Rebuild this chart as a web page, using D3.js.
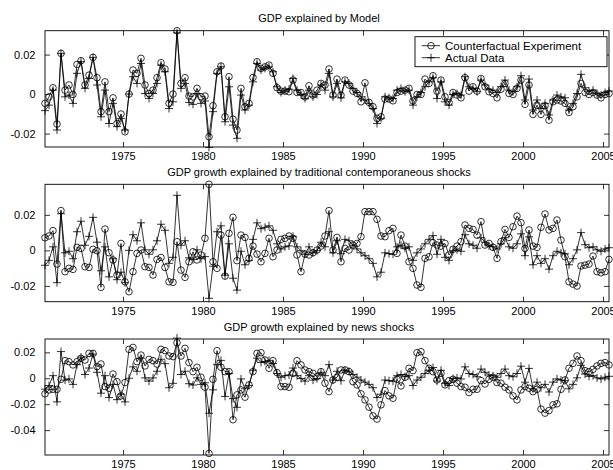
<!DOCTYPE html>
<html><head><meta charset="utf-8">
<script src="https://cdn.jsdelivr.net/npm/d3@7"></script>
<style>
body{margin:0;background:#fff}
text{font-family:"Liberation Sans",Arial,Helvetica,sans-serif;fill:#000}
</style>
</head><body>
<svg id="chart" width="613" height="470"></svg>
<script>
// quarterly data, starting 1970 Q1
const startYear = 1970;
const actual = [
-0.0084,-0.0056,0.0020,-0.0182,0.0206,-0.0014,-0.0005,-0.0047,0.0105,0.0164,
0.0029,0.0079,0.0186,0.0046,-0.0115,0.0020,-0.0149,-0.0047,-0.0165,-0.0123,
-0.0182,0.0000,0.0088,0.0054,0.0155,0.0003,-0.0022,0.0003,0.0054,0.0147,
0.0113,-0.0073,-0.0039,0.0310,0.0029,0.0054,-0.0042,-0.0052,0.0003,-0.0047,
-0.0035,-0.0270,-0.0089,0.0105,0.0138,-0.0140,0.0037,-0.0157,-0.0224,-0.0005,
-0.0081,-0.0056,0.0062,0.0155,0.0122,0.0130,0.0138,0.0113,0.0037,0.0008,
0.0020,0.0025,0.0079,0.0020,-0.0002,-0.0022,0.0020,-0.0014,-0.0002,0.0046,
0.0020,0.0105,-0.0014,0.0054,-0.0019,0.0062,0.0054,0.0029,0.0008,-0.0014,
-0.0030,-0.0047,-0.0073,-0.0149,-0.0123,-0.0014,-0.0019,-0.0022,0.0020,0.0029,
0.0012,0.0020,-0.0056,-0.0014,0.0008,0.0037,0.0062,0.0083,-0.0022,0.0062,
-0.0039,-0.0056,-0.0002,0.0003,-0.0005,0.0088,0.0037,0.0029,0.0012,0.0071,
0.0046,0.0025,0.0020,0.0008,0.0037,0.0071,0.0020,0.0012,0.0037,0.0093,
-0.0030,0.0076,-0.0081,-0.0030,-0.0073,-0.0047,-0.0106,-0.0030,-0.0005,-0.0014,
-0.0019,-0.0081,-0.0047,0.0003,0.0100,0.0032,0.0015,0.0020,0.0003,-0.0005,
0.0008,0.0015];
const cfModel = [
-0.0047,-0.0014,0.0032,-0.0152,0.0206,0.0020,0.0046,-0.0002,0.0150,0.0169,
0.0046,0.0096,0.0186,0.0083,-0.0089,0.0062,-0.0089,-0.0019,-0.0149,-0.0101,
-0.0191,0.0000,0.0122,0.0105,0.0181,0.0046,0.0003,0.0020,0.0083,0.0159,
0.0127,-0.0047,0.0000,0.0321,0.0054,0.0083,-0.0010,-0.0014,0.0029,-0.0014,
-0.0010,-0.0216,-0.0059,0.0113,0.0142,-0.0115,0.0088,-0.0127,-0.0182,0.0029,
-0.0064,-0.0047,0.0084,0.0164,0.0130,0.0138,0.0147,0.0105,0.0032,0.0015,
0.0015,0.0012,0.0071,0.0008,0.0008,-0.0014,0.0042,-0.0005,0.0020,0.0054,
0.0046,0.0127,-0.0005,0.0076,-0.0005,0.0071,0.0046,0.0015,0.0003,-0.0039,
0.0057,-0.0042,-0.0064,-0.0123,-0.0115,-0.0025,-0.0025,-0.0034,0.0008,0.0015,
0.0020,0.0029,-0.0035,-0.0002,-0.0002,0.0076,0.0054,0.0093,0.0015,0.0071,
-0.0014,-0.0042,0.0008,-0.0005,-0.0019,0.0083,0.0015,0.0037,0.0015,0.0079,
0.0037,0.0012,0.0003,-0.0019,0.0025,0.0054,0.0003,-0.0002,0.0029,0.0071,
-0.0052,0.0046,-0.0103,-0.0056,-0.0103,-0.0059,-0.0132,-0.0039,-0.0030,-0.0035,
-0.0047,-0.0093,-0.0064,-0.0014,0.0054,0.0008,-0.0002,0.0008,-0.0005,-0.0019,
-0.0002,0.0003];
const cfTraditional = [
0.0071,0.0081,0.0111,-0.0077,0.0224,-0.0120,-0.0101,-0.0107,0.0017,0.0011,
-0.0092,-0.0096,0.0006,-0.0002,-0.0208,0.0120,-0.0013,-0.0054,-0.0139,0.0039,
-0.0177,-0.0233,-0.0120,-0.0017,0.0002,-0.0092,-0.0096,-0.0139,-0.0051,-0.0040,
-0.0096,-0.0177,-0.0180,0.0049,-0.0111,-0.0152,-0.0064,-0.0008,-0.0054,-0.0026,
0.0068,0.0372,-0.0064,-0.0101,0.0086,-0.0145,0.0096,0.0186,-0.0058,0.0086,
0.0073,-0.0045,0.0024,-0.0021,-0.0064,-0.0017,0.0068,-0.0036,0.0002,0.0062,
0.0068,0.0081,0.0068,-0.0026,-0.0120,-0.0021,-0.0026,-0.0013,0.0002,0.0024,
0.0081,0.0224,0.0002,0.0073,-0.0064,0.0011,0.0002,0.0030,0.0039,0.0077,
0.0218,0.0218,0.0218,0.0175,0.0081,0.0077,0.0111,0.0124,-0.0017,0.0086,
0.0024,-0.0064,-0.0101,-0.0195,-0.0208,-0.0045,-0.0036,0.0043,0.0030,0.0024,
0.0039,-0.0026,0.0006,0.0024,0.0049,0.0143,0.0124,0.0118,0.0086,0.0162,
0.0030,0.0039,0.0017,-0.0045,0.0049,0.0118,0.0073,0.0133,0.0193,0.0156,
0.0011,0.0115,0.0024,0.0017,0.0130,0.0205,0.0115,0.0124,0.0171,0.0058,
-0.0036,-0.0177,-0.0190,-0.0201,-0.0088,-0.0083,-0.0077,-0.0032,-0.0120,-0.0126,
-0.0120,-0.0051];
const cfNews = [
-0.0120,-0.0090,-0.0085,-0.0085,-0.0008,0.0136,0.0128,0.0103,0.0128,0.0154,
0.0141,0.0192,0.0192,0.0090,0.0110,-0.0064,-0.0077,0.0033,-0.0026,-0.0136,
-0.0033,0.0223,0.0238,0.0128,0.0179,0.0095,0.0146,0.0136,0.0110,0.0223,
0.0213,0.0172,0.0167,0.0274,0.0172,0.0231,0.0121,0.0051,0.0085,0.0008,
-0.0069,-0.0580,-0.0008,0.0213,0.0085,0.0051,0.0051,-0.0320,-0.0128,-0.0090,
-0.0146,-0.0051,0.0051,0.0192,0.0197,0.0141,0.0077,0.0136,0.0044,-0.0064,
-0.0064,-0.0069,0.0038,0.0136,0.0103,0.0064,0.0051,0.0038,0.0013,0.0051,
-0.0038,-0.0103,-0.0013,0.0008,0.0064,0.0064,0.0051,-0.0026,-0.0051,-0.0120,
-0.0167,-0.0223,-0.0290,-0.0315,-0.0205,-0.0095,-0.0136,-0.0154,-0.0008,-0.0059,
0.0008,0.0077,0.0059,0.0197,0.0205,0.0136,0.0077,0.0051,-0.0013,0.0038,
-0.0051,-0.0018,-0.0008,-0.0038,-0.0064,-0.0069,-0.0110,-0.0085,-0.0085,-0.0018,
-0.0044,-0.0008,0.0008,-0.0033,-0.0038,-0.0069,-0.0090,-0.0136,-0.0167,-0.0090,
-0.0064,-0.0077,-0.0103,-0.0085,-0.0238,-0.0269,-0.0249,-0.0205,-0.0197,-0.0085,
-0.0013,0.0077,0.0115,0.0172,0.0136,0.0059,0.0051,0.0069,0.0095,0.0115,
0.0121,0.0103];
const xTickYears = [1975, 1980, 1985, 1990, 1995, 2000, 2005];
const titles = [
  "GDP explained by Model",
  "GDP growth explained by traditional contemporaneous shocks",
  "GDP growth explained by news shocks"];
const yTickSets = [[-0.02, 0, 0.02], [-0.02, 0, 0.02], [-0.04, -0.02, 0, 0.02]];
const legendLabels = ["Counterfactual Experiment", "Actual Data"];
const counterfactuals = [cfModel, cfTraditional, cfNews];

// layout
const W = 613, H = 470;
const left = 45, right = 609;
const panels = [
  {top: 30.7, bottom: 147, domain: [-0.0268, 0.0321]},
  {top: 184.3, bottom: 301.7, domain: [-0.0289, 0.0372]},
  {top: 339, bottom: 455, domain: [-0.0592, 0.0303]}
];

const dates = actual.map((_, i) => startYear + (i + 0.5) / 4);
const x = d3.scaleLinear().domain(d3.extent(dates)).range([left, right]);

const svg = d3.select("#chart");
svg.append("rect").attr("width", W).attr("height", H).attr("fill", "#fff");

const fmtY = d => d === 0 ? "0" : d.toFixed(2);
const circleR = 3.3, plusH = 4;
const plusPath = `M${-plusH},0H${plusH}M0,${-plusH}V${plusH}`;

panels.forEach((p, k) => {
  const y = d3.scaleLinear().domain(p.domain).range([p.bottom, p.top]);
  const g = svg.append("g");

  // axes with inside ticks
  const ax = (gen, tr) => {
    const a = g.append("g").attr("transform", tr).call(gen);
    a.select(".domain").remove();
    a.selectAll("line").attr("stroke", "#000").attr("stroke-width", 0.8);
    a.selectAll("text").attr("font-size", 11).attr("font-family", '"Liberation Sans",Arial,sans-serif').attr("fill", "#000");
    return a;
  };
  ax(d3.axisBottom(x).tickValues(xTickYears).tickFormat(d3.format("d")).tickSize(-5).tickPadding(5.5), `translate(0,${p.bottom})`);
  ax(d3.axisTop(x).tickValues(xTickYears).tickFormat("").tickSize(-5), `translate(0,${p.top})`);
  ax(d3.axisLeft(y).tickValues(yTickSets[k]).tickFormat(fmtY).tickSize(-5).tickPadding(9.5), `translate(${left},0)`);
  ax(d3.axisRight(y).tickValues(yTickSets[k]).tickFormat("").tickSize(-5), `translate(${right},0)`);

  // frame
  g.append("rect").attr("x", left).attr("y", p.top).attr("width", right - left).attr("height", p.bottom - p.top)
    .attr("fill", "none").attr("stroke", "#000").attr("stroke-width", 0.9);

  // title
  g.append("text").attr("x", 319).attr("y", p.top - 8.5).attr("text-anchor", "middle")
    .attr("font-size", 11).text(titles[k]);

  const line = d3.line().x((d, i) => x(dates[i])).y(d => y(d));
  const cf = counterfactuals[k];

  g.append("path").datum(cf).attr("d", line).attr("fill", "none").attr("stroke", "#000").attr("stroke-width", 0.8);
  g.append("path").datum(actual).attr("d", line).attr("fill", "none").attr("stroke", "#000").attr("stroke-width", 0.8);

  g.append("g").selectAll("circle").data(cf).join("circle")
    .attr("cx", (d, i) => x(dates[i])).attr("cy", d => y(d)).attr("r", circleR)
    .attr("fill", "none").attr("stroke", "#000").attr("stroke-width", 0.8);
  g.append("g").selectAll("path").data(actual).join("path")
    .attr("transform", (d, i) => `translate(${x(dates[i])},${y(d)})`).attr("d", plusPath)
    .attr("fill", "none").attr("stroke", "#000").attr("stroke-width", 0.8);

  if (k === 0) {
    const lg = g.append("g");
    lg.append("rect").attr("x", 415).attr("y", 36.7).attr("width", 192).attr("height", 30)
      .attr("fill", "#fff").attr("stroke", "#000").attr("stroke-width", 0.9);
    const rows = [45.7, 57.7];
    legendLabels.forEach((lab, j) => {
      const ry = rows[j];
      lg.append("line").attr("x1", 421.7).attr("x2", 440).attr("y1", ry).attr("y2", ry)
        .attr("stroke", "#000").attr("stroke-width", 0.8);
      if (j === 0) {
        lg.append("circle").attr("cx", 431).attr("cy", ry).attr("r", circleR)
          .attr("fill", "none").attr("stroke", "#000").attr("stroke-width", 0.8);
      } else {
        lg.append("path").attr("transform", `translate(431,${ry})`).attr("d", plusPath)
          .attr("fill", "none").attr("stroke", "#000").attr("stroke-width", 0.8);
      }
      lg.append("text").attr("x", 445).attr("y", ry + 4).attr("font-size", 11.5).text(lab);
    });
  }
});
</script>
</body></html>
